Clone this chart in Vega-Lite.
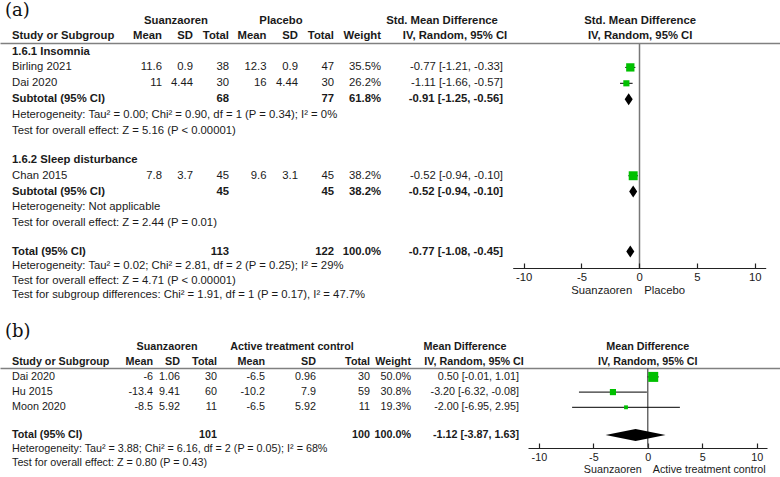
{
"$schema": "https://vega.github.io/schema/vega-lite/v6.json",
"width": 780, "height": 477, "autosize": {"type": "none"}, "padding": 0, "background": "white",
"config": {"view": {"stroke": null}},
"datasets": {
"A": [
{"row":3,"type":"study","study":"Birling 2021","m1":11.6,"sd1":0.9,"n1":38,"m2":12.3,"sd2":0.9,"n2":47,"w":"35.5%","ci":"-0.77 [-1.21, -0.33]","est":-0.77,"lo":-1.21,"hi":-0.33,"wt":35.5},
{"row":4,"type":"study","study":"Dai 2020","m1":11,"sd1":4.44,"n1":30,"m2":16,"sd2":4.44,"n2":30,"w":"26.2%","ci":"-1.11 [-1.66, -0.57]","est":-1.11,"lo":-1.66,"hi":-0.57,"wt":26.2},
{"row":5,"type":"subtotal","study":"Subtotal (95% CI)","n1":68,"n2":77,"w":"61.8%","ci":"-0.91 [-1.25, -0.56]","est":-0.91,"lo":-1.25,"hi":-0.56},
{"row":10,"type":"study","study":"Chan 2015","m1":7.8,"sd1":3.7,"n1":45,"m2":9.6,"sd2":3.1,"n2":45,"w":"38.2%","ci":"-0.52 [-0.94, -0.10]","est":-0.52,"lo":-0.94,"hi":-0.10,"wt":38.2},
{"row":11,"type":"subtotal","study":"Subtotal (95% CI)","n1":45,"n2":45,"w":"38.2%","ci":"-0.52 [-0.94, -0.10]","est":-0.52,"lo":-0.94,"hi":-0.10},
{"row":15,"type":"total","study":"Total (95% CI)","n1":113,"n2":122,"w":"100.0%","ci":"-0.77 [-1.08, -0.45]","est":-0.77,"lo":-1.08,"hi":-0.45}
],
"B": [
{"row":22,"type":"study","study":"Dai 2020","m1":-6,"sd1":1.06,"n1":30,"m2":-6.5,"sd2":0.96,"n2":30,"w":"50.0%","ci":"0.50 [-0.01, 1.01]","est":0.5,"lo":-0.01,"hi":1.01,"wt":50},
{"row":23,"type":"study","study":"Hu 2015","m1":-13.4,"sd1":9.41,"n1":60,"m2":-10.2,"sd2":7.9,"n2":59,"w":"30.8%","ci":"-3.20 [-6.32, -0.08]","est":-3.2,"lo":-6.32,"hi":-0.08,"wt":30.8},
{"row":24,"type":"study","study":"Moon 2020","m1":-8.5,"sd1":5.92,"n1":11,"m2":-6.5,"sd2":5.92,"n2":11,"w":"19.3%","ci":"-2.00 [-6.95, 2.95]","est":-2,"lo":-6.95,"hi":2.95,"wt":19.3},
{"row":26,"type":"total","study":"Total (95% CI)","n1":101,"n2":100,"w":"100.0%","ci":"-1.12 [-3.87, 1.63]","est":-1.12,"lo":-3.87,"hi":1.63}
],
"cols": [{"key":"m1","col":1},{"key":"sd1","col":3},{"key":"n1","col":4},{"key":"m2","col":5},{"key":"sd2","col":7},{"key":"n2","col":8},{"key":"w","col":9},{"key":"ci","col":12}],
"hdrA": [
{"row":0,"col":2,"level":"group","text":"Suanzaoren"},{"row":0,"col":6,"level":"group","text":"Placebo"},{"row":0,"col":10,"level":"group","text":"Std. Mean Difference"},{"row":1,"col":11,"level":"group","text":"IV, Random, 95% CI"},
{"row":1,"col":1,"level":"column","text":"Mean"},{"row":1,"col":3,"level":"column","text":"SD"},{"row":1,"col":4,"level":"column","text":"Total"},{"row":1,"col":5,"level":"column","text":"Mean"},{"row":1,"col":7,"level":"column","text":"SD"},{"row":1,"col":8,"level":"column","text":"Total"},{"row":1,"col":9,"level":"column","text":"Weight"}
],
"hdrB": [
{"row":20,"col":2,"level":"group","text":"Suanzaoren"},{"row":20,"col":6,"level":"group","text":"Active treatment control"},{"row":20,"col":10,"level":"group","text":"Mean Difference"},{"row":21,"col":11,"level":"group","text":"IV, Random, 95% CI"},
{"row":21,"col":1,"level":"column","text":"Mean"},{"row":21,"col":3,"level":"column","text":"SD"},{"row":21,"col":4,"level":"column","text":"Total"},{"row":21,"col":5,"level":"column","text":"Mean"},{"row":21,"col":7,"level":"column","text":"SD"},{"row":21,"col":8,"level":"column","text":"Total"},{"row":21,"col":9,"level":"column","text":"Weight"}
],
"notesA": [
{"row":1,"kind":"heading","text":"Study or Subgroup"},
{"row":2,"kind":"heading","text":"1.6.1 Insomnia"},
{"row":6,"kind":"note","text":"Heterogeneity: Tau² = 0.00; Chi² = 0.90, df = 1 (P = 0.34); I² = 0%"},
{"row":7,"kind":"note","text":"Test for overall effect: Z = 5.16 (P < 0.00001)"},
{"row":9,"kind":"heading","text":"1.6.2 Sleep disturbance"},
{"row":12,"kind":"note","text":"Heterogeneity: Not applicable"},
{"row":13,"kind":"note","text":"Test for overall effect: Z = 2.44 (P = 0.01)"},
{"row":16,"kind":"note","text":"Heterogeneity: Tau² = 0.02; Chi² = 2.81, df = 2 (P = 0.25); I² = 29%"},
{"row":17,"kind":"note","text":"Test for overall effect: Z = 4.71 (P < 0.00001)"},
{"row":18,"kind":"note","text":"Test for subgroup differences: Chi² = 1.91, df = 1 (P = 0.17), I² = 47.7%"}
],
"notesB": [
{"row":21,"kind":"heading","text":"Study or Subgroup"},
{"row":27,"kind":"note","text":"Heterogeneity: Tau² = 3.88; Chi² = 6.16, df = 2 (P = 0.05); I² = 68%"},
{"row":28,"kind":"note","text":"Test for overall effect: Z = 0.80 (P = 0.43)"}
],
"panels": [{"row":-1,"text":"(a)"},{"row":19,"text":"(b)"}],
"plotHdrA": [{"row":0,"text":"Std. Mean Difference"},{"row":1,"text":"IV, Random, 95% CI"}],
"plotHdrB": [{"row":20,"text":"Mean Difference"},{"row":21,"text":"IV, Random, 95% CI"}],
"favA": [{"side":"left","text":"Suanzaoren","row":17.72},{"side":"right","text":"Placebo","row":17.72}],
"favB": [{"side":"left","text":"Suanzaoren","row":28.5},{"side":"right","text":"Active treatment control","row":28.5}],
"frames": [{"panel":"b","effect":0,"headerRow":21.43,"axisRow":26.9}]
},
"resolve": {"scale": {"x":"independent","y":"independent","size":"independent"}},
"layer": [
{"data":{"name":"panels"},"mark":{"type":"text","opacity":0},
 "encoding":{"x":{"datum":0,"type":"quantitative","scale":{"domain":[0,1],"range":[0,780]},"axis":null},
  "y":{"field":"row","type":"quantitative","scale":{"domain":[-1,0,1,2,7,9,13,15,18,19,20,21,24,26,28,29],"range":[10.5,21,36,51.5,131,160,223,251.5,295,332,346.7,361.7,407.3,435,463.3,477.5],"nice":false,"zero":false},
   "axis":{"orient":"left","offset":0,"values":[1.47,21.43],"tickSize":-780,"tickColor":"#808080","tickWidth":1.5,"domain":false,"labels":false,"grid":false,"title":null}},
  "text":{"value":""}}},
{"data":{"name":"panels"},"transform":[{"filter":"datum.text == '(a)'"}],"mark":{"type":"text","opacity":0},
 "encoding":{"x":{"datum":0,"type":"quantitative","scale":{"domain":[-10.95,10.95],"range":[512.7,765.7],"nice":false,"zero":false},
   "axis":{"orient":"top","offset":-43,"values":[0],"tickSize":-225,"tickColor":"#777777","tickWidth":1.5,"domain":false,"labels":false,"grid":false,"title":null}},
  "y":{"field":"row","type":"quantitative","scale":{"domain":[-1,0,1,2,7,9,13,15,18,19,20,21,24,26,28,29],"range":[10.5,21,36,51.5,131,160,223,251.5,295,332,346.7,361.7,407.3,435,463.3,477.5],"nice":false,"zero":false},"axis":null},
  "text":{"value":""}}},
{"layer":[
 {"data":{"name":"A"},"transform":[{"filter":"datum.type == 'study'"},{"fold":["m1","sd1","n1","m2","sd2","n2","w","ci"],"as":["key","val"]},{"filter":"isValid(datum.val)"},{"lookup":"key","from":{"data":{"name":"cols"},"key":"key","fields":["col"]}}],
  "mark":{"type":"text","align":"right","baseline":"middle","font":"Liberation Sans","fontSize":11.3,"color":"#1a1a1a"},
  "encoding":{"x":{"field":"col","type":"quantitative","scale":{"domain":[0,1,2,3,4,5,6,7,8,9,10,11,12],"range":[12,162,176,193,229,266.5,281,298,334,381,442,455,503],"nice":false,"zero":false},"axis":null},"y":{"field":"row","type":"quantitative","scale":{"domain":[-1,0,1,2,7,9,13,15,18,19,20,21,24,26,28,29],"range":[10.5,21,36,51.5,131,160,223,251.5,295,332,346.7,361.7,407.3,435,463.3,477.5],"nice":false,"zero":false},"axis":null},"text":{"field":"val","type":"nominal"}}},
 {"data":{"name":"A"},"transform":[{"filter":"datum.type != 'study'"},{"fold":["m1","sd1","n1","m2","sd2","n2","w","ci"],"as":["key","val"]},{"filter":"isValid(datum.val)"},{"lookup":"key","from":{"data":{"name":"cols"},"key":"key","fields":["col"]}}],
  "mark":{"type":"text","align":"right","baseline":"middle","font":"Liberation Sans","fontSize":11.3,"fontWeight":"bold","color":"#1a1a1a"},
  "encoding":{"x":{"field":"col","type":"quantitative","scale":{"domain":[0,1,2,3,4,5,6,7,8,9,10,11,12],"range":[12,162,176,193,229,266.5,281,298,334,381,442,455,503],"nice":false,"zero":false},"axis":null},"y":{"field":"row","type":"quantitative","scale":{"domain":[-1,0,1,2,7,9,13,15,18,19,20,21,24,26,28,29],"range":[10.5,21,36,51.5,131,160,223,251.5,295,332,346.7,361.7,407.3,435,463.3,477.5],"nice":false,"zero":false},"axis":null},"text":{"field":"val","type":"nominal"}}},
 {"data":{"name":"A"},"transform":[{"filter":"datum.type == 'study'"}],
  "mark":{"type":"text","align":"left","baseline":"middle","font":"Liberation Sans","fontSize":11.3,"color":"#1a1a1a"},
  "encoding":{"x":{"datum":0,"type":"quantitative","scale":{"domain":[0,1,2,3,4,5,6,7,8,9,10,11,12],"range":[12,162,176,193,229,266.5,281,298,334,381,442,455,503],"nice":false,"zero":false},"axis":null},"y":{"field":"row","type":"quantitative","scale":{"domain":[-1,0,1,2,7,9,13,15,18,19,20,21,24,26,28,29],"range":[10.5,21,36,51.5,131,160,223,251.5,295,332,346.7,361.7,407.3,435,463.3,477.5],"nice":false,"zero":false},"axis":null},"text":{"field":"study","type":"nominal"}}},
 {"data":{"name":"A"},"transform":[{"filter":"datum.type != 'study'"}],
  "mark":{"type":"text","align":"left","baseline":"middle","font":"Liberation Sans","fontSize":11.3,"fontWeight":"bold","color":"#1a1a1a"},
  "encoding":{"x":{"datum":0,"type":"quantitative","scale":{"domain":[0,1,2,3,4,5,6,7,8,9,10,11,12],"range":[12,162,176,193,229,266.5,281,298,334,381,442,455,503],"nice":false,"zero":false},"axis":null},"y":{"field":"row","type":"quantitative","scale":{"domain":[-1,0,1,2,7,9,13,15,18,19,20,21,24,26,28,29],"range":[10.5,21,36,51.5,131,160,223,251.5,295,332,346.7,361.7,407.3,435,463.3,477.5],"nice":false,"zero":false},"axis":null},"text":{"field":"study","type":"nominal"}}},
 {"data":{"name":"hdrA"},"transform":[{"filter":"datum.level == 'group'"}],
  "mark":{"type":"text","align":"center","baseline":"middle","font":"Liberation Sans","fontSize":11.3,"fontWeight":"bold","color":"#1a1a1a"},
  "encoding":{"x":{"field":"col","type":"quantitative","scale":{"domain":[0,1,2,3,4,5,6,7,8,9,10,11,12],"range":[12,162,176,193,229,266.5,281,298,334,381,442,455,503],"nice":false,"zero":false},"axis":null},"y":{"field":"row","type":"quantitative","scale":{"domain":[-1,0,1,2,7,9,13,15,18,19,20,21,24,26,28,29],"range":[10.5,21,36,51.5,131,160,223,251.5,295,332,346.7,361.7,407.3,435,463.3,477.5],"nice":false,"zero":false},"axis":null},"text":{"field":"text","type":"nominal"}}},
 {"data":{"name":"hdrA"},"transform":[{"filter":"datum.level == 'column'"}],
  "mark":{"type":"text","align":"right","baseline":"middle","font":"Liberation Sans","fontSize":11.3,"fontWeight":"bold","color":"#1a1a1a"},
  "encoding":{"x":{"field":"col","type":"quantitative","scale":{"domain":[0,1,2,3,4,5,6,7,8,9,10,11,12],"range":[12,162,176,193,229,266.5,281,298,334,381,442,455,503],"nice":false,"zero":false},"axis":null},"y":{"field":"row","type":"quantitative","scale":{"domain":[-1,0,1,2,7,9,13,15,18,19,20,21,24,26,28,29],"range":[10.5,21,36,51.5,131,160,223,251.5,295,332,346.7,361.7,407.3,435,463.3,477.5],"nice":false,"zero":false},"axis":null},"text":{"field":"text","type":"nominal"}}},
 {"data":{"name":"notesA"},"transform":[{"filter":"datum.kind == 'note'"}],
  "mark":{"type":"text","align":"left","baseline":"middle","font":"Liberation Sans","fontSize":11.3,"color":"#1a1a1a"},
  "encoding":{"x":{"datum":0,"type":"quantitative","scale":{"domain":[0,1,2,3,4,5,6,7,8,9,10,11,12],"range":[12,162,176,193,229,266.5,281,298,334,381,442,455,503],"nice":false,"zero":false},"axis":null},"y":{"field":"row","type":"quantitative","scale":{"domain":[-1,0,1,2,7,9,13,15,18,19,20,21,24,26,28,29],"range":[10.5,21,36,51.5,131,160,223,251.5,295,332,346.7,361.7,407.3,435,463.3,477.5],"nice":false,"zero":false},"axis":null},"text":{"field":"text","type":"nominal"}}},
 {"data":{"name":"notesA"},"transform":[{"filter":"datum.kind == 'heading'"}],
  "mark":{"type":"text","align":"left","baseline":"middle","font":"Liberation Sans","fontSize":11.3,"fontWeight":"bold","color":"#1a1a1a"},
  "encoding":{"x":{"datum":0,"type":"quantitative","scale":{"domain":[0,1,2,3,4,5,6,7,8,9,10,11,12],"range":[12,162,176,193,229,266.5,281,298,334,381,442,455,503],"nice":false,"zero":false},"axis":null},"y":{"field":"row","type":"quantitative","scale":{"domain":[-1,0,1,2,7,9,13,15,18,19,20,21,24,26,28,29],"range":[10.5,21,36,51.5,131,160,223,251.5,295,332,346.7,361.7,407.3,435,463.3,477.5],"nice":false,"zero":false},"axis":null},"text":{"field":"text","type":"nominal"}}},
 {"data":{"name":"panels"},
  "mark":{"type":"text","align":"left","baseline":"middle","font":"DejaVu Serif","fontSize":18,"dx":-7,"color":"#111111"},
  "encoding":{"x":{"datum":0,"type":"quantitative","scale":{"domain":[0,1,2,3,4,5,6,7,8,9,10,11,12],"range":[12,162,176,193,229,266.5,281,298,334,381,442,455,503],"nice":false,"zero":false},"axis":null},"y":{"field":"row","type":"quantitative","scale":{"domain":[-1,0,1,2,7,9,13,15,18,19,20,21,24,26,28,29],"range":[10.5,21,36,51.5,131,160,223,251.5,295,332,346.7,361.7,407.3,435,463.3,477.5],"nice":false,"zero":false},"axis":null},"text":{"field":"text","type":"nominal"}}}
]},
{"layer":[
 {"data":{"name":"B"},"transform":[{"filter":"datum.type == 'study'"},{"fold":["m1","sd1","n1","m2","sd2","n2","w","ci"],"as":["key","val"]},{"filter":"isValid(datum.val)"},{"lookup":"key","from":{"data":{"name":"cols"},"key":"key","fields":["col"]}}],
  "mark":{"type":"text","align":"right","baseline":"middle","font":"Liberation Sans","fontSize":10.75,"color":"#1a1a1a"},
  "encoding":{"x":{"field":"col","type":"quantitative","scale":{"domain":[0,1,2,3,4,5,6,7,8,9,10,11,12],"range":[12,153,167,180,217,265,292,316,370,411,465,474,519],"nice":false,"zero":false},"axis":null},"y":{"field":"row","type":"quantitative","scale":{"domain":[-1,0,1,2,7,9,13,15,18,19,20,21,24,26,28,29],"range":[10.5,21,36,51.5,131,160,223,251.5,295,332,346.7,361.7,407.3,435,463.3,477.5],"nice":false,"zero":false},"axis":null},"text":{"field":"val","type":"nominal"}}},
 {"data":{"name":"B"},"transform":[{"filter":"datum.type != 'study'"},{"fold":["m1","sd1","n1","m2","sd2","n2","w","ci"],"as":["key","val"]},{"filter":"isValid(datum.val)"},{"lookup":"key","from":{"data":{"name":"cols"},"key":"key","fields":["col"]}}],
  "mark":{"type":"text","align":"right","baseline":"middle","font":"Liberation Sans","fontSize":10.75,"fontWeight":"bold","color":"#1a1a1a"},
  "encoding":{"x":{"field":"col","type":"quantitative","scale":{"domain":[0,1,2,3,4,5,6,7,8,9,10,11,12],"range":[12,153,167,180,217,265,292,316,370,411,465,474,519],"nice":false,"zero":false},"axis":null},"y":{"field":"row","type":"quantitative","scale":{"domain":[-1,0,1,2,7,9,13,15,18,19,20,21,24,26,28,29],"range":[10.5,21,36,51.5,131,160,223,251.5,295,332,346.7,361.7,407.3,435,463.3,477.5],"nice":false,"zero":false},"axis":null},"text":{"field":"val","type":"nominal"}}},
 {"data":{"name":"B"},"transform":[{"filter":"datum.type == 'study'"}],
  "mark":{"type":"text","align":"left","baseline":"middle","font":"Liberation Sans","fontSize":10.75,"color":"#1a1a1a"},
  "encoding":{"x":{"datum":0,"type":"quantitative","scale":{"domain":[0,1,2,3,4,5,6,7,8,9,10,11,12],"range":[12,153,167,180,217,265,292,316,370,411,465,474,519],"nice":false,"zero":false},"axis":null},"y":{"field":"row","type":"quantitative","scale":{"domain":[-1,0,1,2,7,9,13,15,18,19,20,21,24,26,28,29],"range":[10.5,21,36,51.5,131,160,223,251.5,295,332,346.7,361.7,407.3,435,463.3,477.5],"nice":false,"zero":false},"axis":null},"text":{"field":"study","type":"nominal"}}},
 {"data":{"name":"B"},"transform":[{"filter":"datum.type != 'study'"}],
  "mark":{"type":"text","align":"left","baseline":"middle","font":"Liberation Sans","fontSize":10.75,"fontWeight":"bold","color":"#1a1a1a"},
  "encoding":{"x":{"datum":0,"type":"quantitative","scale":{"domain":[0,1,2,3,4,5,6,7,8,9,10,11,12],"range":[12,153,167,180,217,265,292,316,370,411,465,474,519],"nice":false,"zero":false},"axis":null},"y":{"field":"row","type":"quantitative","scale":{"domain":[-1,0,1,2,7,9,13,15,18,19,20,21,24,26,28,29],"range":[10.5,21,36,51.5,131,160,223,251.5,295,332,346.7,361.7,407.3,435,463.3,477.5],"nice":false,"zero":false},"axis":null},"text":{"field":"study","type":"nominal"}}},
 {"data":{"name":"hdrB"},"transform":[{"filter":"datum.level == 'group'"}],
  "mark":{"type":"text","align":"center","baseline":"middle","font":"Liberation Sans","fontSize":10.75,"fontWeight":"bold","color":"#1a1a1a"},
  "encoding":{"x":{"field":"col","type":"quantitative","scale":{"domain":[0,1,2,3,4,5,6,7,8,9,10,11,12],"range":[12,153,167,180,217,265,292,316,370,411,465,474,519],"nice":false,"zero":false},"axis":null},"y":{"field":"row","type":"quantitative","scale":{"domain":[-1,0,1,2,7,9,13,15,18,19,20,21,24,26,28,29],"range":[10.5,21,36,51.5,131,160,223,251.5,295,332,346.7,361.7,407.3,435,463.3,477.5],"nice":false,"zero":false},"axis":null},"text":{"field":"text","type":"nominal"}}},
 {"data":{"name":"hdrB"},"transform":[{"filter":"datum.level == 'column'"}],
  "mark":{"type":"text","align":"right","baseline":"middle","font":"Liberation Sans","fontSize":10.75,"fontWeight":"bold","color":"#1a1a1a"},
  "encoding":{"x":{"field":"col","type":"quantitative","scale":{"domain":[0,1,2,3,4,5,6,7,8,9,10,11,12],"range":[12,153,167,180,217,265,292,316,370,411,465,474,519],"nice":false,"zero":false},"axis":null},"y":{"field":"row","type":"quantitative","scale":{"domain":[-1,0,1,2,7,9,13,15,18,19,20,21,24,26,28,29],"range":[10.5,21,36,51.5,131,160,223,251.5,295,332,346.7,361.7,407.3,435,463.3,477.5],"nice":false,"zero":false},"axis":null},"text":{"field":"text","type":"nominal"}}},
 {"data":{"name":"notesB"},"transform":[{"filter":"datum.kind == 'note'"}],
  "mark":{"type":"text","align":"left","baseline":"middle","font":"Liberation Sans","fontSize":10.75,"color":"#1a1a1a"},
  "encoding":{"x":{"datum":0,"type":"quantitative","scale":{"domain":[0,1,2,3,4,5,6,7,8,9,10,11,12],"range":[12,153,167,180,217,265,292,316,370,411,465,474,519],"nice":false,"zero":false},"axis":null},"y":{"field":"row","type":"quantitative","scale":{"domain":[-1,0,1,2,7,9,13,15,18,19,20,21,24,26,28,29],"range":[10.5,21,36,51.5,131,160,223,251.5,295,332,346.7,361.7,407.3,435,463.3,477.5],"nice":false,"zero":false},"axis":null},"text":{"field":"text","type":"nominal"}}},
 {"data":{"name":"notesB"},"transform":[{"filter":"datum.kind == 'heading'"}],
  "mark":{"type":"text","align":"left","baseline":"middle","font":"Liberation Sans","fontSize":10.75,"fontWeight":"bold","color":"#1a1a1a"},
  "encoding":{"x":{"datum":0,"type":"quantitative","scale":{"domain":[0,1,2,3,4,5,6,7,8,9,10,11,12],"range":[12,153,167,180,217,265,292,316,370,411,465,474,519],"nice":false,"zero":false},"axis":null},"y":{"field":"row","type":"quantitative","scale":{"domain":[-1,0,1,2,7,9,13,15,18,19,20,21,24,26,28,29],"range":[10.5,21,36,51.5,131,160,223,251.5,295,332,346.7,361.7,407.3,435,463.3,477.5],"nice":false,"zero":false},"axis":null},"text":{"field":"text","type":"nominal"}}}
]},
{"layer":[
 {"data":{"name":"A"},"transform":[{"filter":"datum.type == 'study'"}],"mark":{"type":"rule","color":"#000000","strokeWidth":1},
  "encoding":{"x":{"field":"lo","type":"quantitative","scale":{"domain":[-10.95,10.95],"range":[512.7,765.7],"nice":false,"zero":false},"axis":{"orient":"bottom","offset":-209,"values":[-10,-5,0,5,10],"title":null,"grid":false,"domainColor":"#222222","domainWidth":1.2,"tickColor":"#222222","tickWidth":1.2,"tickSize":-5,"labelFont":"Liberation Sans","labelFontSize":11.3,"labelColor":"#1a1a1a","labelPadding":8,"labelExpr":"'' + datum.value","labelFlush":false,"labelOverlap":false}},"x2":{"field":"hi"},
   "y":{"field":"row","type":"quantitative","scale":{"domain":[-1,0,1,2,7,9,13,15,18,19,20,21,24,26,28,29],"range":[10.5,21,36,51.5,131,160,223,251.5,295,332,346.7,361.7,407.3,435,463.3,477.5],"nice":false,"zero":false},"axis":null}}},
 {"data":{"name":"A"},"transform":[{"filter":"datum.type == 'study'"}],"mark":{"type":"point","shape":"square","filled":true,"color":"#00c000","opacity":1},
  "encoding":{"x":{"field":"est","type":"quantitative","scale":{"domain":[-10.95,10.95],"range":[512.7,765.7],"nice":false,"zero":false},"axis":{"orient":"bottom","offset":-209,"values":[-10,-5,0,5,10],"title":null,"grid":false,"domainColor":"#222222","domainWidth":1.2,"tickColor":"#222222","tickWidth":1.2,"tickSize":-5,"labelFont":"Liberation Sans","labelFontSize":11.3,"labelColor":"#1a1a1a","labelPadding":8,"labelExpr":"'' + datum.value","labelFlush":false,"labelOverlap":false}},
   "y":{"field":"row","type":"quantitative","scale":{"domain":[-1,0,1,2,7,9,13,15,18,19,20,21,24,26,28,29],"range":[10.5,21,36,51.5,131,160,223,251.5,295,332,346.7,361.7,407.3,435,463.3,477.5],"nice":false,"zero":false},"axis":null},
   "size":{"field":"wt","type":"quantitative","scale":{"type":"pow","exponent":2,"domain":[0,40],"range":[0,87.6]},"legend":null}}},
 {"data":{"name":"A"},"transform":[{"filter":"datum.type != 'study'"}],"mark":{"type":"point","shape":"M0,-1L0.67,0L0,1L-0.67,0Z","filled":true,"color":"#000000","opacity":1,"size":144},
  "encoding":{"x":{"field":"est","type":"quantitative","scale":{"domain":[-10.95,10.95],"range":[512.7,765.7],"nice":false,"zero":false},"axis":{"orient":"bottom","offset":-209,"values":[-10,-5,0,5,10],"title":null,"grid":false,"domainColor":"#222222","domainWidth":1.2,"tickColor":"#222222","tickWidth":1.2,"tickSize":-5,"labelFont":"Liberation Sans","labelFontSize":11.3,"labelColor":"#1a1a1a","labelPadding":8,"labelExpr":"'' + datum.value","labelFlush":false,"labelOverlap":false}},
   "y":{"field":"row","type":"quantitative","scale":{"domain":[-1,0,1,2,7,9,13,15,18,19,20,21,24,26,28,29],"range":[10.5,21,36,51.5,131,160,223,251.5,295,332,346.7,361.7,407.3,435,463.3,477.5],"nice":false,"zero":false},"axis":null}}},
 {"data":{"name":"plotHdrA"},"mark":{"type":"text","align":"center","baseline":"middle","font":"Liberation Sans","fontSize":11.3,"fontWeight":"bold","color":"#1a1a1a","dx":1},
  "encoding":{"x":{"datum":0,"type":"quantitative","scale":{"domain":[-10.95,10.95],"range":[512.7,765.7],"nice":false,"zero":false},"axis":{"orient":"bottom","offset":-209,"values":[-10,-5,0,5,10],"title":null,"grid":false,"domainColor":"#222222","domainWidth":1.2,"tickColor":"#222222","tickWidth":1.2,"tickSize":-5,"labelFont":"Liberation Sans","labelFontSize":11.3,"labelColor":"#1a1a1a","labelPadding":8,"labelExpr":"'' + datum.value","labelFlush":false,"labelOverlap":false}},
   "y":{"field":"row","type":"quantitative","scale":{"domain":[-1,0,1,2,7,9,13,15,18,19,20,21,24,26,28,29],"range":[10.5,21,36,51.5,131,160,223,251.5,295,332,346.7,361.7,407.3,435,463.3,477.5],"nice":false,"zero":false},"axis":null},"text":{"field":"text","type":"nominal"}}},
 {"data":{"name":"favA"},"transform":[{"filter":"datum.side == 'left'"}],"mark":{"type":"text","align":"right","baseline":"middle","font":"Liberation Sans","fontSize":11.3,"color":"#1a1a1a","dx":-7},
  "encoding":{"x":{"datum":0,"type":"quantitative","scale":{"domain":[-10.95,10.95],"range":[512.7,765.7],"nice":false,"zero":false},"axis":{"orient":"bottom","offset":-209,"values":[-10,-5,0,5,10],"title":null,"grid":false,"domainColor":"#222222","domainWidth":1.2,"tickColor":"#222222","tickWidth":1.2,"tickSize":-5,"labelFont":"Liberation Sans","labelFontSize":11.3,"labelColor":"#1a1a1a","labelPadding":8,"labelExpr":"'' + datum.value","labelFlush":false,"labelOverlap":false}},
   "y":{"field":"row","type":"quantitative","scale":{"domain":[-1,0,1,2,7,9,13,15,18,19,20,21,24,26,28,29],"range":[10.5,21,36,51.5,131,160,223,251.5,295,332,346.7,361.7,407.3,435,463.3,477.5],"nice":false,"zero":false},"axis":null},"text":{"field":"text","type":"nominal"}}},
 {"data":{"name":"favA"},"transform":[{"filter":"datum.side == 'right'"}],"mark":{"type":"text","align":"left","baseline":"middle","font":"Liberation Sans","fontSize":11.3,"color":"#1a1a1a","dx":5},
  "encoding":{"x":{"datum":0,"type":"quantitative","scale":{"domain":[-10.95,10.95],"range":[512.7,765.7],"nice":false,"zero":false},"axis":{"orient":"bottom","offset":-209,"values":[-10,-5,0,5,10],"title":null,"grid":false,"domainColor":"#222222","domainWidth":1.2,"tickColor":"#222222","tickWidth":1.2,"tickSize":-5,"labelFont":"Liberation Sans","labelFontSize":11.3,"labelColor":"#1a1a1a","labelPadding":8,"labelExpr":"'' + datum.value","labelFlush":false,"labelOverlap":false}},
   "y":{"field":"row","type":"quantitative","scale":{"domain":[-1,0,1,2,7,9,13,15,18,19,20,21,24,26,28,29],"range":[10.5,21,36,51.5,131,160,223,251.5,295,332,346.7,361.7,407.3,435,463.3,477.5],"nice":false,"zero":false},"axis":null},"text":{"field":"text","type":"nominal"}}}
]},
{"layer":[
 {"data":{"name":"frames"},"transform":[{"filter":"datum.panel == 'b'"}],"mark":{"type":"rect","fill":"#555555","stroke":"#555555","strokeWidth":1.3},
  "encoding":{"x":{"field":"effect","type":"quantitative","scale":{"domain":[-11,10.95],"range":[528,767],"nice":false,"zero":false},"axis":{"orient":"bottom","offset":-29,"values":[-10,-5,0,5,10],"title":null,"grid":false,"domainColor":"#222222","domainWidth":1.2,"tickColor":"#222222","tickWidth":1.2,"tickSize":-5,"labelFont":"Liberation Sans","labelFontSize":10.75,"labelColor":"#1a1a1a","labelPadding":9.5,"labelExpr":"'' + datum.value","labelFlush":false,"labelOverlap":false}},"x2":{"field":"effect"},
   "y":{"field":"headerRow","type":"quantitative","scale":{"domain":[-1,0,1,2,7,9,13,15,18,19,20,21,24,26,28,29],"range":[10.5,21,36,51.5,131,160,223,251.5,295,332,346.7,361.7,407.3,435,463.3,477.5],"nice":false,"zero":false},"axis":null},"y2":{"field":"axisRow"}}},
 {"data":{"name":"B"},"transform":[{"filter":"datum.type == 'study'"}],"mark":{"type":"rule","color":"#000000","strokeWidth":1},
  "encoding":{"x":{"field":"lo","type":"quantitative","scale":{"domain":[-11,10.95],"range":[528,767],"nice":false,"zero":false},"axis":{"orient":"bottom","offset":-29,"values":[-10,-5,0,5,10],"title":null,"grid":false,"domainColor":"#222222","domainWidth":1.2,"tickColor":"#222222","tickWidth":1.2,"tickSize":-5,"labelFont":"Liberation Sans","labelFontSize":10.75,"labelColor":"#1a1a1a","labelPadding":9.5,"labelExpr":"'' + datum.value","labelFlush":false,"labelOverlap":false}},"x2":{"field":"hi"},
   "y":{"field":"row","type":"quantitative","scale":{"domain":[-1,0,1,2,7,9,13,15,18,19,20,21,24,26,28,29],"range":[10.5,21,36,51.5,131,160,223,251.5,295,332,346.7,361.7,407.3,435,463.3,477.5],"nice":false,"zero":false},"axis":null}}},
 {"data":{"name":"B"},"transform":[{"filter":"datum.type == 'study'"}],"mark":{"type":"point","shape":"square","filled":true,"color":"#00c000","opacity":1},
  "encoding":{"x":{"field":"est","type":"quantitative","scale":{"domain":[-11,10.95],"range":[528,767],"nice":false,"zero":false},"axis":{"orient":"bottom","offset":-29,"values":[-10,-5,0,5,10],"title":null,"grid":false,"domainColor":"#222222","domainWidth":1.2,"tickColor":"#222222","tickWidth":1.2,"tickSize":-5,"labelFont":"Liberation Sans","labelFontSize":10.75,"labelColor":"#1a1a1a","labelPadding":9.5,"labelExpr":"'' + datum.value","labelFlush":false,"labelOverlap":false}},
   "y":{"field":"row","type":"quantitative","scale":{"domain":[-1,0,1,2,7,9,13,15,18,19,20,21,24,26,28,29],"range":[10.5,21,36,51.5,131,160,223,251.5,295,332,346.7,361.7,407.3,435,463.3,477.5],"nice":false,"zero":false},"axis":null},
   "size":{"field":"wt","type":"quantitative","scale":{"type":"pow","exponent":2,"domain":[0,50],"range":[0,100]},"legend":null}}},
 {"data":{"name":"B"},"transform":[{"filter":"datum.type != 'study'"}],"mark":{"type":"point","shape":"M0,-1L5,0L0,1L-5,0Z","filled":true,"color":"#000000","opacity":1,"size":144},
  "encoding":{"x":{"field":"est","type":"quantitative","scale":{"domain":[-11,10.95],"range":[528,767],"nice":false,"zero":false},"axis":{"orient":"bottom","offset":-29,"values":[-10,-5,0,5,10],"title":null,"grid":false,"domainColor":"#222222","domainWidth":1.2,"tickColor":"#222222","tickWidth":1.2,"tickSize":-5,"labelFont":"Liberation Sans","labelFontSize":10.75,"labelColor":"#1a1a1a","labelPadding":9.5,"labelExpr":"'' + datum.value","labelFlush":false,"labelOverlap":false}},
   "y":{"field":"row","type":"quantitative","scale":{"domain":[-1,0,1,2,7,9,13,15,18,19,20,21,24,26,28,29],"range":[10.5,21,36,51.5,131,160,223,251.5,295,332,346.7,361.7,407.3,435,463.3,477.5],"nice":false,"zero":false},"axis":null}}},
 {"data":{"name":"plotHdrB"},"mark":{"type":"text","align":"center","baseline":"middle","font":"Liberation Sans","fontSize":10.75,"fontWeight":"bold","color":"#1a1a1a"},
  "encoding":{"x":{"datum":0,"type":"quantitative","scale":{"domain":[-11,10.95],"range":[528,767],"nice":false,"zero":false},"axis":{"orient":"bottom","offset":-29,"values":[-10,-5,0,5,10],"title":null,"grid":false,"domainColor":"#222222","domainWidth":1.2,"tickColor":"#222222","tickWidth":1.2,"tickSize":-5,"labelFont":"Liberation Sans","labelFontSize":10.75,"labelColor":"#1a1a1a","labelPadding":9.5,"labelExpr":"'' + datum.value","labelFlush":false,"labelOverlap":false}},
   "y":{"field":"row","type":"quantitative","scale":{"domain":[-1,0,1,2,7,9,13,15,18,19,20,21,24,26,28,29],"range":[10.5,21,36,51.5,131,160,223,251.5,295,332,346.7,361.7,407.3,435,463.3,477.5],"nice":false,"zero":false},"axis":null},"text":{"field":"text","type":"nominal"}}},
 {"data":{"name":"favB"},"transform":[{"filter":"datum.side == 'left'"}],"mark":{"type":"text","align":"right","baseline":"middle","font":"Liberation Sans","fontSize":10.75,"color":"#1a1a1a","dx":-6},
  "encoding":{"x":{"datum":0,"type":"quantitative","scale":{"domain":[-11,10.95],"range":[528,767],"nice":false,"zero":false},"axis":{"orient":"bottom","offset":-29,"values":[-10,-5,0,5,10],"title":null,"grid":false,"domainColor":"#222222","domainWidth":1.2,"tickColor":"#222222","tickWidth":1.2,"tickSize":-5,"labelFont":"Liberation Sans","labelFontSize":10.75,"labelColor":"#1a1a1a","labelPadding":9.5,"labelExpr":"'' + datum.value","labelFlush":false,"labelOverlap":false}},
   "y":{"field":"row","type":"quantitative","scale":{"domain":[-1,0,1,2,7,9,13,15,18,19,20,21,24,26,28,29],"range":[10.5,21,36,51.5,131,160,223,251.5,295,332,346.7,361.7,407.3,435,463.3,477.5],"nice":false,"zero":false},"axis":null},"text":{"field":"text","type":"nominal"}}},
 {"data":{"name":"favB"},"transform":[{"filter":"datum.side == 'right'"}],"mark":{"type":"text","align":"left","baseline":"middle","font":"Liberation Sans","fontSize":10.75,"color":"#1a1a1a","dx":5},
  "encoding":{"x":{"datum":0,"type":"quantitative","scale":{"domain":[-11,10.95],"range":[528,767],"nice":false,"zero":false},"axis":{"orient":"bottom","offset":-29,"values":[-10,-5,0,5,10],"title":null,"grid":false,"domainColor":"#222222","domainWidth":1.2,"tickColor":"#222222","tickWidth":1.2,"tickSize":-5,"labelFont":"Liberation Sans","labelFontSize":10.75,"labelColor":"#1a1a1a","labelPadding":9.5,"labelExpr":"'' + datum.value","labelFlush":false,"labelOverlap":false}},
   "y":{"field":"row","type":"quantitative","scale":{"domain":[-1,0,1,2,7,9,13,15,18,19,20,21,24,26,28,29],"range":[10.5,21,36,51.5,131,160,223,251.5,295,332,346.7,361.7,407.3,435,463.3,477.5],"nice":false,"zero":false},"axis":null},"text":{"field":"text","type":"nominal"}}}
]}
]
}
